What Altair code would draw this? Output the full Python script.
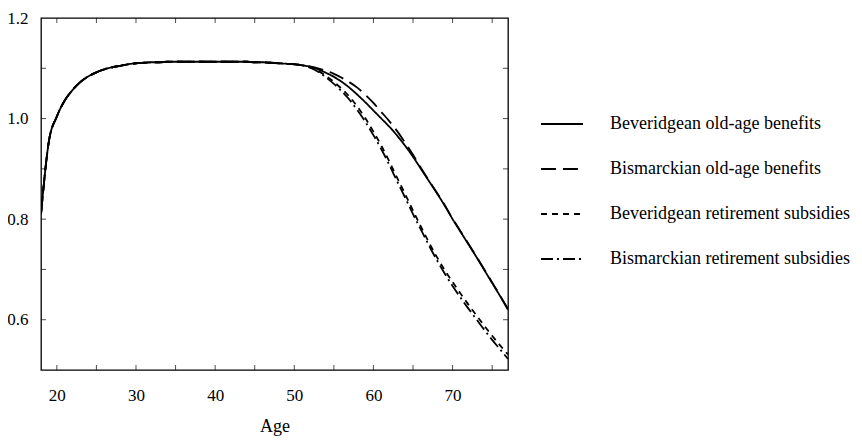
import altair as alt
import pandas as pd

# ---- data ----
series_names = [
    "Beveridgean old-age benefits",
    "Bismarckian old-age benefits",
    "Beveridgean retirement subsidies",
    "Bismarckian retirement subsidies",
]

ages = list(range(18, 78))

# common part, ages 18..51
common = [0.810, 0.955, 1.004, 1.036, 1.057, 1.073, 1.084, 1.092, 1.098, 1.102,
          1.105, 1.108, 1.110, 1.111, 1.112, 1.112, 1.113, 1.113, 1.113, 1.113,
          1.113, 1.113, 1.113, 1.113, 1.113, 1.113, 1.113, 1.112, 1.112, 1.111,
          1.110, 1.109, 1.108, 1.106]

# ages 52..77
bev_oab_tail = [1.103, 1.098, 1.091, 1.083, 1.073, 1.061, 1.047, 1.032, 1.016, 1.000,
                0.984, 0.966, 0.946, 0.924, 0.900, 0.876, 0.852, 0.827, 0.800, 0.775,
                0.750, 0.725, 0.699, 0.673, 0.647, 0.620]
bis_oab_tail = [1.104, 1.100, 1.095, 1.089, 1.081, 1.072, 1.061, 1.047, 1.031, 1.013,
                0.995, 0.975, 0.952, 0.928, 0.902, 0.877, 0.853, 0.828, 0.801, 0.776,
                0.751, 0.726, 0.700, 0.674, 0.648, 0.621]
bev_rs_tail = [1.102, 1.095, 1.085, 1.073, 1.059, 1.043, 1.023, 1.000, 0.974, 0.946,
               0.915, 0.882, 0.850, 0.817, 0.785, 0.754, 0.725, 0.699, 0.675, 0.652,
               0.630, 0.609, 0.588, 0.568, 0.549, 0.531]
bis_rs_tail = [1.101, 1.093, 1.082, 1.069, 1.054, 1.037, 1.016, 0.993, 0.967, 0.939,
               0.908, 0.875, 0.843, 0.810, 0.779, 0.748, 0.719, 0.692, 0.667, 0.644,
               0.622, 0.601, 0.580, 0.560, 0.541, 0.522]

x_ticks = [20, 25, 30, 35, 40, 45, 50, 55, 60, 65, 70, 75]
x_labels = [20, 30, 40, 50, 60, 70]
y_ticks = [0.6, 0.7, 0.8, 0.9, 1.0, 1.1]
y_labels = [0.6, 0.8, 1.0, 1.2]

x_domain = [18, 77]
y_domain = [0.5, 1.2]

# ---- build table ----
rows = []
for name, tail in zip(series_names, [bev_oab_tail, bis_oab_tail, bev_rs_tail, bis_rs_tail]):
    vals = common + tail
    for a, v in zip(ages, vals):
        rows.append({"age": a, "value": v, "series": name})
df = pd.DataFrame(rows)

FONT = "Liberation Serif"
xs = alt.Scale(domain=x_domain, nice=False, zero=False)
ys = alt.Scale(domain=y_domain, nice=False, zero=False)

x_axis = alt.Axis(values=x_labels, ticks=False, domain=False, grid=False,
                  labelFont=FONT, labelFontSize=17, labelPadding=17, labelColor="black",
                  title="Age", titleFont=FONT, titleFontSize=18, titleFontWeight="normal",
                  titlePadding=14, titleColor="black")
y_axis = alt.Axis(values=y_labels, format=".1f", ticks=False, domain=False, grid=False,
                  labelFont=FONT, labelFontSize=17, labelPadding=13, labelColor="black",
                  title=None)

lines = alt.Chart(df).mark_line(color="black", strokeWidth=1.8, interpolate="monotone", clip=True).encode(
    x=alt.X("age:Q", scale=xs, axis=x_axis),
    y=alt.Y("value:Q", scale=ys, axis=y_axis),
    strokeDash=alt.StrokeDash(
        "series:N",
        scale=alt.Scale(domain=series_names, range=[[1, 0], [15, 7], [6, 5], [12, 4, 2, 4]]),
        legend=alt.Legend(title=None, orient="none", legendX=499, legendY=84,
                          symbolType="stroke", symbolSize=1764, symbolStrokeWidth=1.8,
                          symbolStrokeColor="black", labelFont=FONT, labelFontSize=18,
                          labelColor="black", labelOffset=26, rowPadding=14, padding=0,
                          labelLimit=400),
    ),
    detail="series:N",
)

dfx = pd.DataFrame({"t": x_ticks})
dfy = pd.DataFrame({"t": y_ticks})

def xtick(yval):
    return alt.Chart(dfx).mark_tick(orient="vertical", size=10, thickness=1, color="black", clip=True).encode(
        x=alt.X("t:Q", scale=xs, axis=x_axis), y=alt.datum(yval, scale=ys, axis=y_axis))

def ytick(xval):
    return alt.Chart(dfy).mark_tick(orient="horizontal", size=10, thickness=1, color="black", clip=True).encode(
        y=alt.Y("t:Q", scale=ys, axis=y_axis), x=alt.datum(xval, scale=xs, axis=x_axis))

chart = alt.layer(
    lines,
    xtick(y_domain[0]), xtick(y_domain[1]),
    ytick(x_domain[0]), ytick(x_domain[1]),
).properties(
    width=467, height=352,
    autosize=alt.AutoSizeParams(type="none"),
    padding={"left": 33, "top": 10, "right": 346, "bottom": 72},
).configure(
    background="white",
    view=alt.ViewConfig(stroke="black", strokeWidth=1.3),
)

chart.save("out.html", embed_options={"renderer": "svg", "actions": False})
